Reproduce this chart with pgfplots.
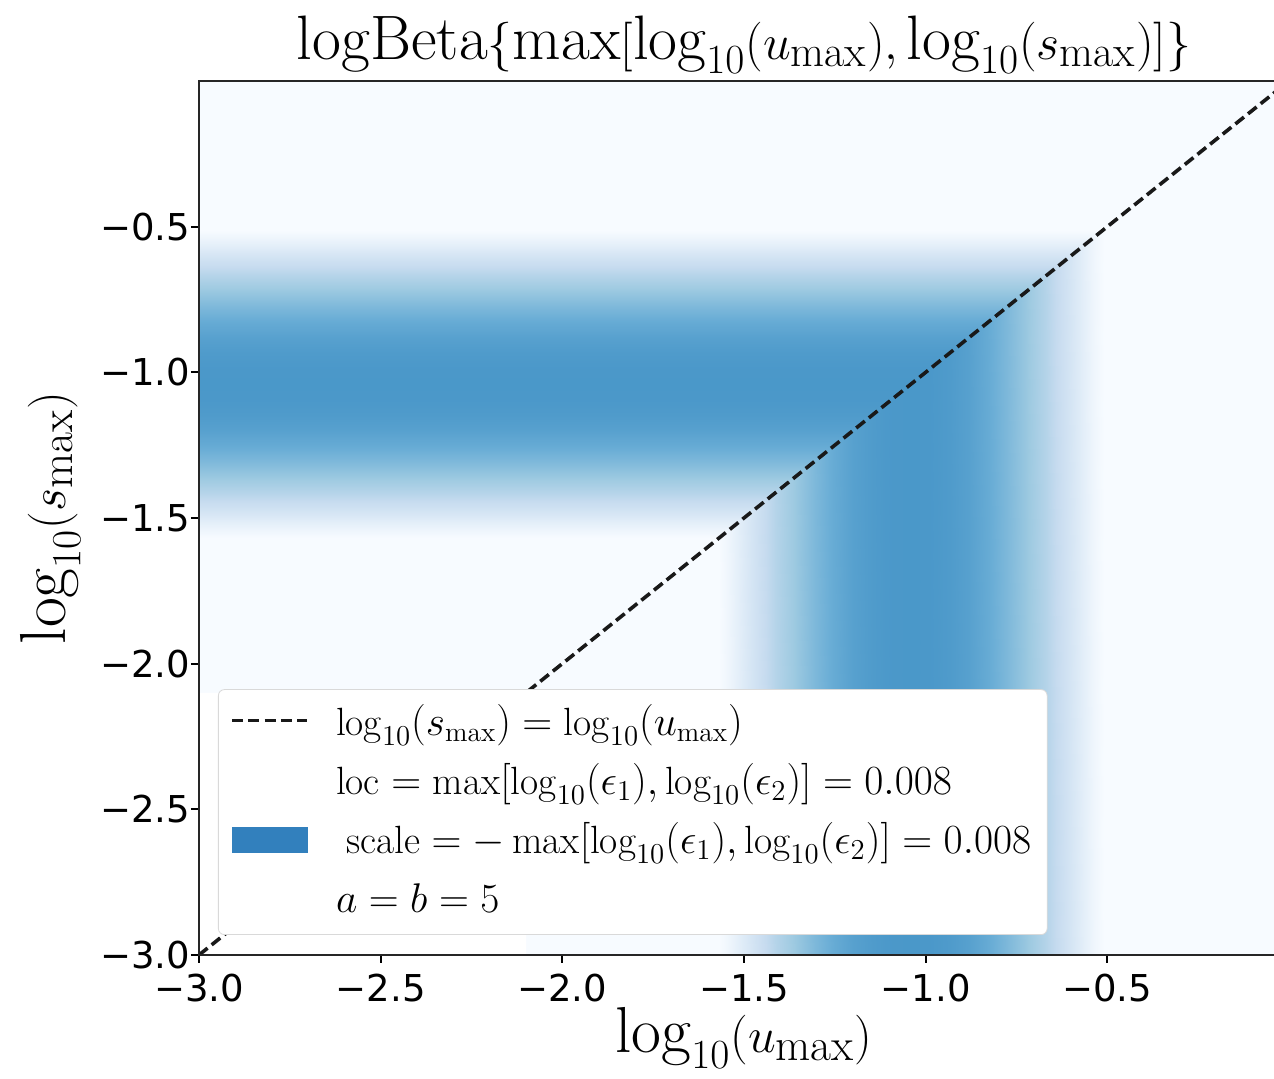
\documentclass[border=0pt]{standalone}
\usepackage{fontspec}
\usepackage{pgfplots}
\usepackage{pgfplotstable}
\pgfplotsset{compat=1.18}
\newfontfamily\dejavu{DejaVu Sans}
\definecolor{legblue}{RGB}{50,128,189}
\definecolor{bgblue}{RGB}{247,251,255}

% horizontal band: colour (colormap position) depends on log10(s_max), left of the diagonal
\pgfplotstableread{
x y c
-3 -1.570 0
-1.570 -1.570 0
-3 -1.543 0.04
-1.543 -1.543 0.04
-3 -1.517 0.095
-1.517 -1.517 0.095
-3 -1.464 0.205
-1.464 -1.464 0.205
-3 -1.411 0.305
-1.411 -1.411 0.305
-3 -1.358 0.385
-1.358 -1.358 0.385
-3 -1.305 0.455
-1.305 -1.305 0.455
-3 -1.252 0.515
-1.252 -1.252 0.515
-3 -1.199 0.56
-1.199 -1.199 0.56
-3 -1.146 0.585
-1.146 -1.146 0.585
-3 -1.093 0.598
-1.093 -1.093 0.598
-3 -1.040 0.60
-1.040 -1.040 0.60
-3 -0.987 0.598
-0.987 -0.987 0.598
-3 -0.934 0.585
-0.934 -0.934 0.585
-3 -0.881 0.56
-0.881 -0.881 0.56
-3 -0.828 0.515
-0.828 -0.828 0.515
-3 -0.775 0.455
-0.775 -0.775 0.455
-3 -0.722 0.385
-0.722 -0.722 0.385
-3 -0.669 0.305
-0.669 -0.669 0.305
-3 -0.616 0.205
-0.616 -0.616 0.205
-3 -0.563 0.095
-0.563 -0.563 0.095
-3 -0.537 0.04
-0.537 -0.537 0.04
-3 -0.510 0
-0.510 -0.510 0
}\hband

% vertical band: colour depends on log10(u_max), below the diagonal
\pgfplotstableread{
x y c
-1.570 -3 0
-1.570 -1.570 0
-1.543 -3 0.04
-1.543 -1.543 0.04
-1.517 -3 0.095
-1.517 -1.517 0.095
-1.464 -3 0.205
-1.464 -1.464 0.205
-1.411 -3 0.305
-1.411 -1.411 0.305
-1.358 -3 0.385
-1.358 -1.358 0.385
-1.305 -3 0.455
-1.305 -1.305 0.455
-1.252 -3 0.515
-1.252 -1.252 0.515
-1.199 -3 0.56
-1.199 -1.199 0.56
-1.146 -3 0.585
-1.146 -1.146 0.585
-1.093 -3 0.598
-1.093 -1.093 0.598
-1.040 -3 0.60
-1.040 -1.040 0.60
-0.987 -3 0.598
-0.987 -0.987 0.598
-0.934 -3 0.585
-0.934 -0.934 0.585
-0.881 -3 0.56
-0.881 -0.881 0.56
-0.828 -3 0.515
-0.828 -0.828 0.515
-0.775 -3 0.455
-0.775 -0.775 0.455
-0.722 -3 0.385
-0.722 -0.722 0.385
-0.669 -3 0.305
-0.669 -0.669 0.305
-0.616 -3 0.205
-0.616 -0.616 0.205
-0.563 -3 0.095
-0.563 -0.563 0.095
-0.537 -3 0.04
-0.537 -0.537 0.04
-0.510 -3 0
-0.510 -0.510 0
}\vband

\begin{document}
\begin{tikzpicture}
\useasboundingbox (0,0) rectangle (637pt,539.5pt);
\begin{axis}[
  at={(99.5pt,62pt)}, anchor=south west,
  scale only axis, width=545pt, height=437pt,
  xmin=-3, xmax=0, ymin=-3, ymax=0,
  axis background/.style={fill=bgblue},
  colormap={blues}{rgb255(0cm)=(247,251,255); rgb255(1cm)=(222,235,247); rgb255(2cm)=(198,219,239); rgb255(3cm)=(158,202,225); rgb255(4cm)=(107,174,214); rgb255(5cm)=(66,146,198); rgb255(6cm)=(33,113,181); rgb255(7cm)=(8,81,156); rgb255(8cm)=(8,48,107)},
  point meta min=0, point meta max=1,
  axis on top,
  tick align=outside, xtick pos=bottom, ytick pos=left,
  major tick length=4pt,
  every tick/.style={black, line width=1pt},
  axis line style={line width=1pt, black!85},
  xtick={-3,-2.5,-2,-1.5,-1,-0.5},
  xticklabels={−3.0,−2.5,−2.0,−1.5,−1.0,−0.5},
  ytick={-3,-2.5,-2,-1.5,-1,-0.5},
  yticklabels={−3.0,−2.5,−2.0,−1.5,−1.0,−0.5},
  ticklabel style={font=\dejavu\fontsize{18.5}{22}\selectfont},
  xticklabel style={yshift=-2pt},
  yticklabel style={xshift=3pt},
  xlabel={$\log_{10}\bigl(u_{\max}\bigr)$},
  ylabel={$\log_{10}\bigl(s_{\max}\bigr)$},
  label style={font=\fontsize{32.5}{39}\selectfont},
  xlabel style={yshift=4pt},
  ylabel style={yshift=3pt},
  title={$\mathrm{logBeta}\bigl\{\max[\log_{10}\bigl(u_{\max}\bigr),\log_{10}\bigl(s_{\max}\bigr)]\bigr\}$},
  title style={font=\fontsize{31.4}{37}\selectfont, yshift=-6pt},
  legend cell align=left,
  legend style={at={(axis cs:-3,-3)}, anchor=south west, xshift=9.5pt, yshift=10pt,
    draw=black!15, rounded corners=3pt, fill=white, text opacity=1,
    inner xsep=6pt, inner ysep=4.5pt, row sep=4.5pt,
    nodes={inner sep=2pt, text height=16.5pt, text depth=4.5pt},
    font=\fontsize{19.7}{26}\selectfont},
]
\addplot[surf, shader=interp, mesh/cols=2, point meta=explicit, forget plot] table[x=x, y=y, meta=c] {\hband};
\addplot[surf, shader=interp, mesh/cols=2, point meta=explicit, forget plot] table[x=x, y=y, meta=c] {\vband};
\addplot[fill=white, draw=none, forget plot] coordinates {(-3,-3) (-2.1,-3) (-2.1,-2.1) (-3,-2.1) (-3,-3)};
\addplot[black!90, line width=1.8pt, dash pattern=on 5.5pt off 2.6pt, forget plot] coordinates {(-3,-3) (0,0)};

\addlegendimage{legend image code/.code={\draw[black!90, line width=1.8pt, sharp corners, dash pattern=on 5.5pt off 2.6pt] (0pt,1.5pt) -- (37.5pt,1.5pt);}}
\addlegendentry{\hspace{11.5pt}$\log_{10}(s_{\max})=\log_{10}(u_{\max})$}
\addlegendimage{empty legend}
\addlegendentry{\hspace{11.5pt}$\mathrm{loc}=\max[\log_{10}(\epsilon_1),\log_{10}(\epsilon_2)]=0.008$}
\addlegendimage{legend image code/.code={\fill[legblue, sharp corners] (0pt,-5.5pt) rectangle (37.5pt,7pt);}}
\addlegendentry{\hspace{16.5pt}$\mathrm{scale}=-\max[\log_{10}(\epsilon_1),\log_{10}(\epsilon_2)]=0.008$}
\addlegendimage{empty legend}
\addlegendentry{\hspace{11.5pt}$a=b=5$}
\end{axis}
\end{tikzpicture}
\end{document}
